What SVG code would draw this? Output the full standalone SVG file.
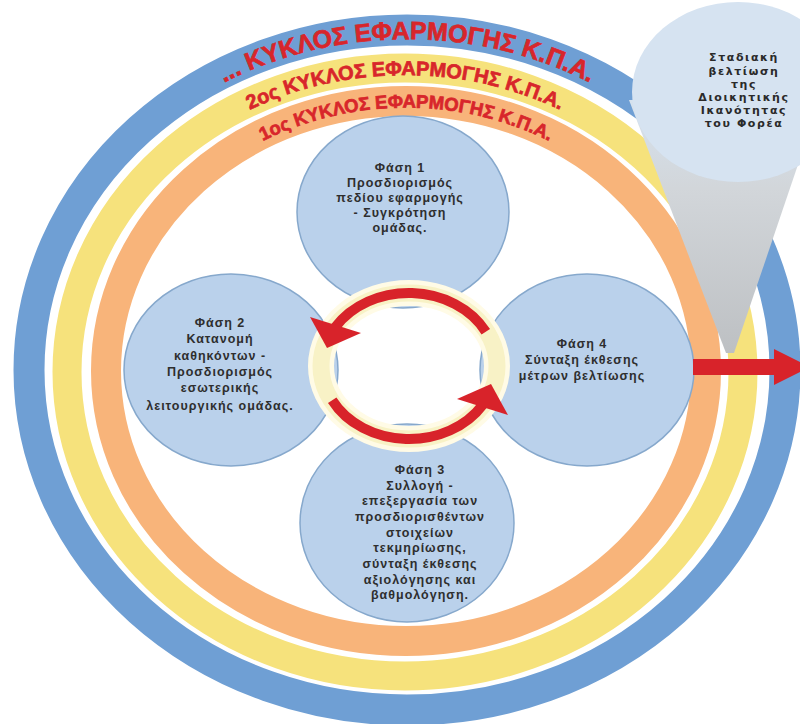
<svg xmlns="http://www.w3.org/2000/svg" width="800" height="724" viewBox="0 0 800 724">
<defs>
<style>
.band{fill:none}
.ringtxt{font-family:"Liberation Sans",Arial,sans-serif;font-weight:700;fill:#d8262b;stroke:#d8262b;stroke-width:0.7}
.phase{fill:#bad1eb;stroke:#86a8cc;stroke-width:1.5}
.pt{font-family:"Liberation Sans",Arial,sans-serif;font-weight:700;font-size:12.5px;fill:#2e2e2e;text-anchor:middle;letter-spacing:1px}
.bt{font-family:"DejaVu Sans","Liberation Sans",sans-serif;font-weight:700;font-size:11px;fill:#2a2a2a;text-anchor:middle;letter-spacing:1.6px}
.red{fill:none;stroke:#d8232a;stroke-width:10}
.redf{fill:#d8232a}
</style>
<linearGradient id="coneg" x1="0" y1="0" x2="0" y2="1">
<stop offset="0" stop-color="#d6e2ee"/>
<stop offset="0.35" stop-color="#d2d6da"/>
<stop offset="1" stop-color="#bdc0c3"/>
</linearGradient>
<path id="pBlue" d="M 37 371 A 368 330 0 0 1 777 371"/>
<path id="pYellow" d="M 74 372 A 331 297 0 0 1 736 372"/>
<path id="pOrange" d="M 112.5 371 A 293.5 263.5 0 0 1 699.5 371"/>
</defs>
<rect x="0" y="0" width="800" height="724" fill="#ffffff"/>

<g id="cycle-n">
<ellipse class="band" cx="407" cy="370" rx="378" ry="340" stroke="#6f9fd4" stroke-width="31"/>
<text class="ringtxt" font-size="25"><textPath href="#pBlue" startOffset="50%" text-anchor="middle">... ΚΥΚΛΟΣ ΕΦΑΡΜΟΓΗΣ Κ.Π.Α.</textPath></text>
</g>
<g id="cycle-2">
<ellipse class="band" cx="405" cy="372" rx="338" ry="304" stroke="#f6e27c" stroke-width="29"/>
<text class="ringtxt" font-size="20"><textPath href="#pYellow" startOffset="50%" text-anchor="middle">2ος ΚΥΚΛΟΣ ΕΦΑΡΜΟΓΗΣ Κ.Π.Α.</textPath></text>
</g>
<g id="cycle-1">
<ellipse class="band" cx="406" cy="371" rx="300" ry="270" stroke="#f8b47a" stroke-width="30"/>
<text class="ringtxt" font-size="18.5"><textPath href="#pOrange" startOffset="50%" text-anchor="middle">1ος ΚΥΚΛΟΣ ΕΦΑΡΜΟΓΗΣ Κ.Π.Α.</textPath></text>
</g>

<g id="phase1">
<ellipse class="phase" cx="403" cy="212" rx="106" ry="96"/>
<text class="pt"><tspan x="400" y="172">Φάση 1</tspan><tspan x="400" y="187">Προσδιορισμός</tspan><tspan x="400" y="202">πεδίου εφαρμογής</tspan><tspan x="400" y="217">- Συγκρότηση</tspan><tspan x="400" y="232">ομάδας.</tspan></text>
</g>
<g id="phase2">
<ellipse class="phase" cx="231" cy="370" rx="107" ry="96"/>
<text class="pt"><tspan x="220" y="327">Φάση 2</tspan><tspan x="220" y="343">Κατανομή</tspan><tspan x="220" y="360">καθηκόντων -</tspan><tspan x="220" y="376">Προσδιορισμός</tspan><tspan x="220" y="392">εσωτερικής</tspan><tspan x="220" y="410">λειτουργικής ομάδας.</tspan></text>
</g>
<g id="phase4">
<ellipse class="phase" cx="587" cy="370" rx="107" ry="96"/>
<text class="pt"><tspan x="582" y="348">Φάση 4</tspan><tspan x="582" y="364">Σύνταξη έκθεσης</tspan><tspan x="582" y="380">μέτρων βελτίωσης</tspan></text>
</g>
<g id="phase3">
<ellipse class="phase" cx="407" cy="523" rx="107" ry="99"/>
<text class="pt"><tspan x="420" y="474">Φάση 3</tspan><tspan x="420" y="490">Συλλογή -</tspan><tspan x="420" y="505">επεξεργασία των</tspan><tspan x="420" y="521">προσδιορισθέντων</tspan><tspan x="420" y="537">στοιχείων</tspan><tspan x="420" y="552">τεκμηρίωσης,</tspan><tspan x="420" y="568">σύνταξη έκθεσης</tspan><tspan x="420" y="584">αξιολόγησης και</tspan><tspan x="420" y="599">βαθμολόγηση.</tspan></text>
</g>

<g id="center-ring">
<ellipse cx="409" cy="366" rx="88" ry="73" fill="none" stroke="#fffbe6" stroke-width="26"/>
<ellipse cx="409" cy="366" rx="88" ry="73" fill="none" stroke="#f8f2c6" stroke-width="17"/>
</g>

<g id="bubble">
<polygon points="629,100 726,353 734,353 820,100" fill="url(#coneg)"/>
<ellipse cx="738" cy="92" rx="106" ry="90" fill="#d6e3f1"/>
<text class="bt"><tspan x="744" y="61">Σταδιακή</tspan><tspan x="744" y="75">βελτίωση</tspan><tspan x="744" y="88">της</tspan><tspan x="744" y="101">Διοικητικής</tspan><tspan x="744" y="114">Ικανότητας</tspan><tspan x="744" y="127">του Φορέα</tspan></text>
</g>

<g id="connectors">
<path class="red" d="M 485.8 331.7 A 87 73 0 0 0 335.2 327.3"/>
<polygon class="redf" points="310,317 327,348 361,333"/>
<path class="red" d="M 332.2 400.3 A 87 73 0 0 0 482.8 404.7"/>
<polygon class="redf" points="508,415 491,384 457,399"/>
<polygon class="redf" points="693,359 774,359 774,349 810,367 774,385 774,375 693,375"/>
</g>
</svg>
